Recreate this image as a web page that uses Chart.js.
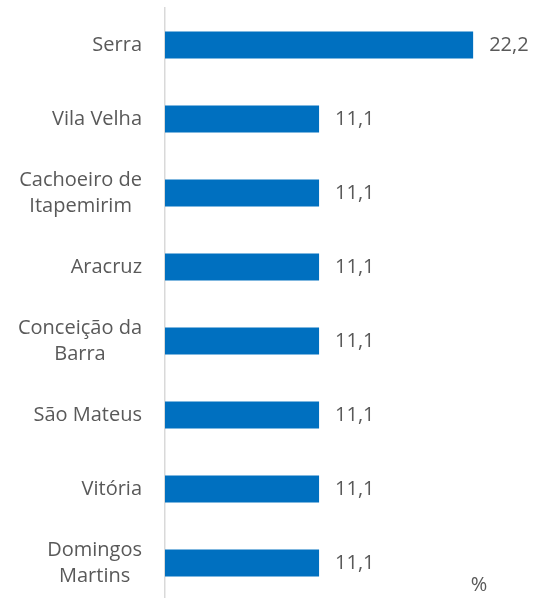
<!DOCTYPE html>
<html>
<head>
<meta charset="utf-8">
<script src="https://cdn.jsdelivr.net/npm/chart.js@4"></script>
<style>
  html, body { margin: 0; padding: 0; background: #fff; overflow: hidden; }
  #wrap { width: 533px; height: 600px; }
</style>
</head>
<body>
<div id="wrap"><canvas id="chart"></canvas></div>
<script>
// municipios e percentuais
var labels = [
  'Serra',
  'Vila Velha',
  ['Cachoeiro de', 'Itapemirim'],
  'Aracruz',
  ['Conceição da', 'Barra'],
  'São Mateus',
  'Vitória',
  ['Domingos', 'Martins']
];
var values = [22.2, 11.1, 11.1, 11.1, 11.1, 11.1, 11.1, 11.1];
var unitLabel = '%';

var textColor = '#595959';
var fontFamily = "'Open Sans', 'DejaVu Sans', sans-serif";

// rótulos centrados por linha + valores + unidade
var labelPlugin = {
  id: 'labelPlugin',
  afterDraw: function (chart) {
    var ctx = chart.ctx;
    var yScale = chart.scales.y;
    var meta = chart.getDatasetMeta(0);
    ctx.save();
    ctx.fillStyle = textColor;
    ctx.font = '20px ' + fontFamily;
    ctx.textBaseline = 'middle';

    labels.forEach(function (lab, i) {
      var lines = Array.isArray(lab) ? lab : [lab];
      var yc = yScale.getPixelForValue(i);
      var lh = 26;
      var widest = 0;
      lines.forEach(function (l) { widest = Math.max(widest, ctx.measureText(l).width); });
      var right = 142;
      var cx = right - widest / 2;
      ctx.textAlign = 'center';
      lines.forEach(function (l, j) {
        var y = yc + (j - (lines.length - 1) / 2) * lh;
        ctx.fillText(l, cx, y);
      });
    });

    ctx.textAlign = 'left';
    meta.data.forEach(function (bar, i) {
      var txt = values[i].toFixed(1).replace('.', ',');
      ctx.fillText(txt, bar.x + 16, bar.y);
    });

    ctx.textAlign = 'center';
    ctx.fillText(unitLabel, 479, 585);
    ctx.restore();
  }
};

var ctx = document.getElementById('chart').getContext('2d');
var chart = new Chart(ctx, {
  type: 'bar',
  data: {
    labels: labels,
    datasets: [{
      data: values,
      backgroundColor: '#0070C0',
      borderWidth: 0,
      barPercentage: 0.7,
      categoryPercentage: 0.52
    }]
  },
  options: {
    indexAxis: 'y',
    responsive: true,
    maintainAspectRatio: false,
    animation: false,
    layout: { padding: { top: 8, right: 21, bottom: 0, left: 0 } },
    plugins: {
      legend: { display: false },
      tooltip: { enabled: false }
    },
    scales: {
      x: {
        display: false,
        min: 0,
        max: 25
      },
      y: {
        grid: { display: false, drawTicks: false },
        border: { display: true, color: '#d9d9d9', width: 1.5 },
        ticks: { display: false },
        afterFit: function (scale) { scale.width = 165; }
      }
    }
  },
  plugins: [labelPlugin]
});
</script>
</body>
</html>
